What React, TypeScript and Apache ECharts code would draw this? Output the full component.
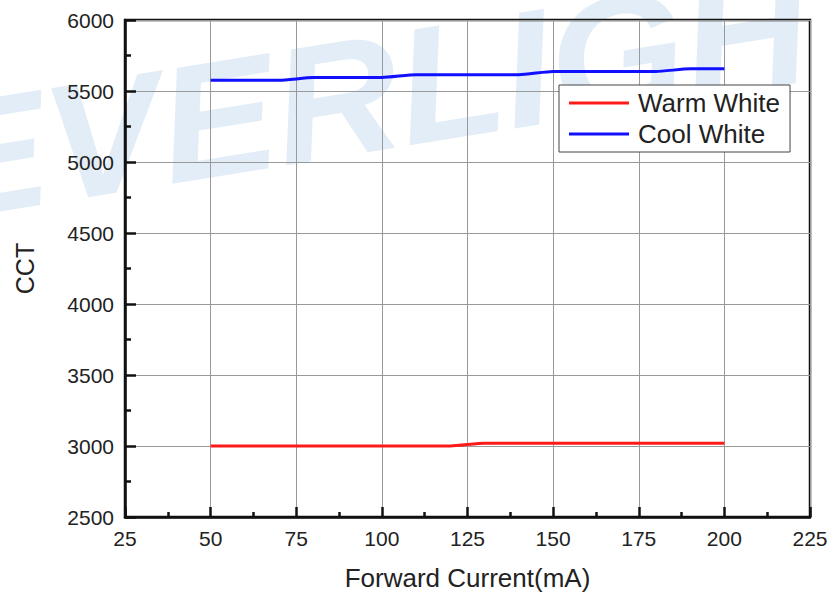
import React, { useEffect, useRef } from "react";
import * as echarts from "echarts";

const currents = [50, 60, 70, 80, 90, 100, 110, 120, 130, 140, 150, 160, 170, 180, 190, 200];
const warmWhite = [3000, 3000, 3000, 3000, 3000, 3000, 3000, 3000, 3020, 3020, 3020, 3020, 3020, 3020, 3020, 3020];
const coolWhite = [5575, 5575, 5575, 5595, 5595, 5595, 5615, 5615, 5615, 5615, 5637, 5637, 5637, 5637, 5657, 5657];
const seriesNames = ["Warm White", "Cool White"];
const xTitle = "Forward Current(mA)";
const yTitle = "CCT";
const watermark = "EVERLIGHT";

const FONT = "Liberation Sans, Arial, sans-serif";

export default function App() {
  const ref = useRef<HTMLDivElement>(null);
  useEffect(() => {
    const chart = echarts.init(ref.current!, null, { renderer: "svg" });
    chart.setOption({
      animation: false,
      backgroundColor: "#fff",
      textStyle: { fontFamily: FONT },
      graphic: [
        {
          type: "text",
          x: -55,
          y: 246,
          rotation: 0.16,
          scaleX: 1.05,
          z: -10,
          silent: true,
          style: {
            text: watermark,
            fontSize: 165,
            fontWeight: 900,
            fontStyle: "italic",
            fontFamily: FONT,
            fill: "rgba(190,215,238,0.45)",
            textVerticalAlign: "bottom",
          },
        },
      ],
      grid: {
        left: 125,
        right: 21,
        top: 20,
        bottom: 77,
        show: true,
        borderColor: "#111",
        borderWidth: 2.5,
        backgroundColor: "transparent",
      },
      legend: {
        orient: "vertical",
        left: 559,
        top: 85,
        padding: [5, 10, 5, 10],
        itemGap: 5,
        itemWidth: 60,
        itemHeight: 3,
        icon: "rect",
        borderColor: "#444",
        borderWidth: 1,
        backgroundColor: "#fff",
        data: seriesNames,
        textStyle: { fontSize: 26, color: "#222", fontFamily: FONT, padding: [0, 0, 0, 4] },
      },
      xAxis: {
        type: "value",
        min: 25,
        max: 225,
        interval: 25,
        name: xTitle,
        nameLocation: "middle",
        nameGap: 48,
        nameTextStyle: { fontSize: 26, color: "#222", fontFamily: FONT },
        axisLine: { show: true, lineStyle: { color: "#111", width: 2.5 } },
        axisTick: { show: true, inside: true, length: 10, lineStyle: { color: "#111", width: 2.5 } },
        minorTick: { show: true, splitNumber: 2, length: 5, lineStyle: { color: "#111", width: 2.5 } },
        axisLabel: { fontSize: 21, color: "#222", margin: 11, fontFamily: FONT },
        splitLine: { show: true, lineStyle: { color: "#999", width: 1 } },
      },
      yAxis: {
        type: "value",
        min: 2500,
        max: 6000,
        interval: 500,
        name: yTitle,
        nameLocation: "middle",
        nameGap: 88,
        nameTextStyle: { fontSize: 25, color: "#222", fontFamily: FONT },
        axisLine: { show: true, lineStyle: { color: "#111", width: 2.5 } },
        axisTick: { show: true, inside: true, length: 11, lineStyle: { color: "#111", width: 2.5 } },
        minorTick: { show: true, splitNumber: 2, length: 6, lineStyle: { color: "#111", width: 2.5 } },
        axisLabel: { fontSize: 21, color: "#222", margin: 11, fontFamily: FONT, formatter: (v: number) => String(v) },
        splitLine: { show: true, lineStyle: { color: "#999", width: 1 } },
      },
      series: [
        {
          name: seriesNames[0],
          type: "line",
          data: currents.map((c, i) => [c, warmWhite[i]]),
          showSymbol: false,
          smooth: 0.2,
          color: "#ff1a1a",
          lineStyle: { width: 3, color: "#ff1a1a" },
          z: 5,
        },
        {
          name: seriesNames[1],
          type: "line",
          data: currents.map((c, i) => [c, coolWhite[i]]),
          showSymbol: false,
          smooth: 0.2,
          color: "#1010ff",
          lineStyle: { width: 3, color: "#1010ff" },
          z: 5,
        },
      ],
    });
    return () => chart.dispose();
  }, []);
  return <div ref={ref} style={{ width: 831, height: 596, position: "absolute", left: 0, top: 0 }} />;
}
